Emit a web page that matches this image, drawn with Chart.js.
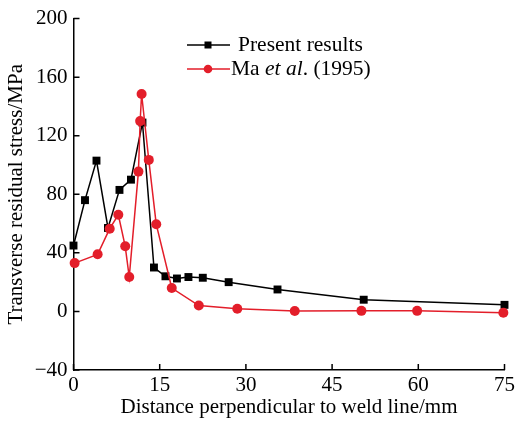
<!DOCTYPE html>
<html>
<head>
<meta charset="utf-8">
<script src="https://cdn.jsdelivr.net/npm/chart.js@4"></script>
<style>
  html, body { margin: 0; padding: 0; background: #fff; }
  #wrap { width: 518px; height: 421px; }
</style>
</head>
<body>
<div id="wrap"><canvas id="c" width="518" height="421"></canvas></div>
<script>
// values
const presentX = [0, 2, 4, 6, 8, 10, 12, 14, 16, 18, 20, 22.5, 27, 35.5, 50.5, 75]
const presentY = [45, 76, 103, 57, 83, 90, 129, 30, 24, 22.5, 23.5, 23, 20, 15, 8, 4.5]
const maX = [0.2, 4.2, 6.3, 7.8, 9, 9.7, 11.3, 11.6, 11.85, 13.1, 14.4, 17.1, 21.8, 28.5, 38.5, 50.1, 59.8, 74.8]
const maY = [33, 39, 56.5, 66, 44.5, 23.5, 95.5, 130, 148.5, 103.5, 59.5, 16, 4, 1.8, 0.3, 0.4, 0.4, -0.9]
const xTicks = [0, 15, 30, 45, 60, 75]
const yTicks = [-40, 0, 40, 80, 120, 160, 200]

const RED = '#e31e2a'
const FONT = "'Liberation Serif', 'Times New Roman', serif"

const pts = (xs, ys) => xs.map((x, i) => ({ x: x, y: ys[i] }))

// ticks point inward, drawn by hand
const innerTicks = {
  id: 'innerTicks',
  afterDraw (chart) {
    const ctx = chart.ctx
    const a = chart.chartArea
    const xs = chart.scales.x
    const ys = chart.scales.y
    ctx.save()
    ctx.strokeStyle = '#000'
    ctx.lineWidth = 1.5
    ctx.beginPath()
    xTicks.forEach((v) => {
      const px = xs.getPixelForValue(v)
      ctx.moveTo(px, a.bottom)
      ctx.lineTo(px, a.bottom - 6)
    })
    yTicks.forEach((v) => {
      const py = ys.getPixelForValue(v)
      ctx.moveTo(a.left, py)
      ctx.lineTo(a.left + 6, py)
    })
    ctx.stroke()
    ctx.restore()
  }
}

// legend sits inside the plot, with italic "et al."
const inLegend = {
  id: 'inLegend',
  afterDraw (chart) {
    const ctx = chart.ctx
    const f = '21.5px ' + FONT
    ctx.save()
    ctx.textBaseline = 'middle'
    ctx.font = f

    // present results
    let y = 45
    ctx.strokeStyle = '#000'
    ctx.lineWidth = 1.5
    ctx.beginPath(); ctx.moveTo(187, y); ctx.lineTo(230, y); ctx.stroke()
    ctx.fillStyle = '#000'
    ctx.fillRect(208 - 3.5, y - 3.5, 7, 7)
    ctx.fillText('Present results', 238, y)

    // Ma et al. (1995)
    y = 69
    ctx.strokeStyle = RED
    ctx.beginPath(); ctx.moveTo(187, y); ctx.lineTo(230, y); ctx.stroke()
    ctx.fillStyle = RED
    ctx.beginPath(); ctx.arc(208, y, 4.3, 0, Math.PI * 2); ctx.fill()
    ctx.fillStyle = '#000'
    let x = 231
    ctx.fillText('Ma ', x, y)
    x += ctx.measureText('Ma ').width
    ctx.font = 'italic ' + f
    ctx.fillText('et al', x, y)
    x += ctx.measureText('et al').width
    ctx.font = f
    ctx.fillText('. (1995)', x, y)
    ctx.restore()
  }
}

new Chart(document.getElementById('c').getContext('2d'), {
  type: 'line',
  data: {
    datasets: [
      {
        label: 'Present results',
        data: pts(presentX, presentY),
        borderColor: '#000',
        backgroundColor: '#000',
        borderWidth: 1.5,
        pointStyle: 'rect',
        pointRadius: 5.6,
        pointBorderWidth: 0,
        tension: 0,
        order: 1
      },
      {
        label: 'Ma et al. (1995)',
        data: pts(maX, maY),
        borderColor: RED,
        backgroundColor: RED,
        borderWidth: 1.5,
        pointStyle: 'circle',
        pointRadius: 5,
        pointBorderWidth: 0,
        tension: 0,
        order: 0
      }
    ]
  },
  options: {
    responsive: false,
    animation: false,
    clip: false,
    layout: {
      padding: { top: 15, right: 11, left: 0, bottom: 0 }
    },
    plugins: {
      legend: { display: false },
      tooltip: { enabled: false }
    },
    scales: {
      x: {
        type: 'linear',
        min: 0,
        max: 75,
        afterBuildTicks: (s) => { s.ticks = xTicks.map((v) => ({ value: v })) },
        afterFit: (s) => { s.height = 51 },
        grid: { display: true, drawOnChartArea: false, drawTicks: false },
        border: { display: true, color: '#000', width: 1.5 },
        ticks: {
          color: '#000',
          padding: 3,
          font: { family: FONT, size: 21 }
        },
        title: {
          display: true,
          text: 'Distance perpendicular to weld line/mm',
          color: '#000',
          font: { family: FONT, size: 21 },
          padding: { top: 0, bottom: 1 }
        }
      },
      y: {
        type: 'linear',
        min: -40,
        max: 200,
        afterBuildTicks: (s) => { s.ticks = yTicks.map((v) => ({ value: v })) },
        afterFit: (s) => { s.width = 73.5 },
        grid: { display: true, drawOnChartArea: false, drawTicks: false },
        border: { display: true, color: '#000', width: 1.5 },
        ticks: {
          color: '#000',
          padding: 6,
          font: { family: FONT, size: 21 },
          callback: (v) => (v < 0 ? '\u2212' + Math.abs(v) : String(v))
        },
        title: {
          display: true,
          text: 'Transverse residual stress/MPa',
          color: '#000',
          font: { family: FONT, size: 21 },
          padding: { top: 4, bottom: 0 }
        }
      }
    }
  },
  plugins: [innerTicks, inLegend]
})
</script>
</body>
</html>
